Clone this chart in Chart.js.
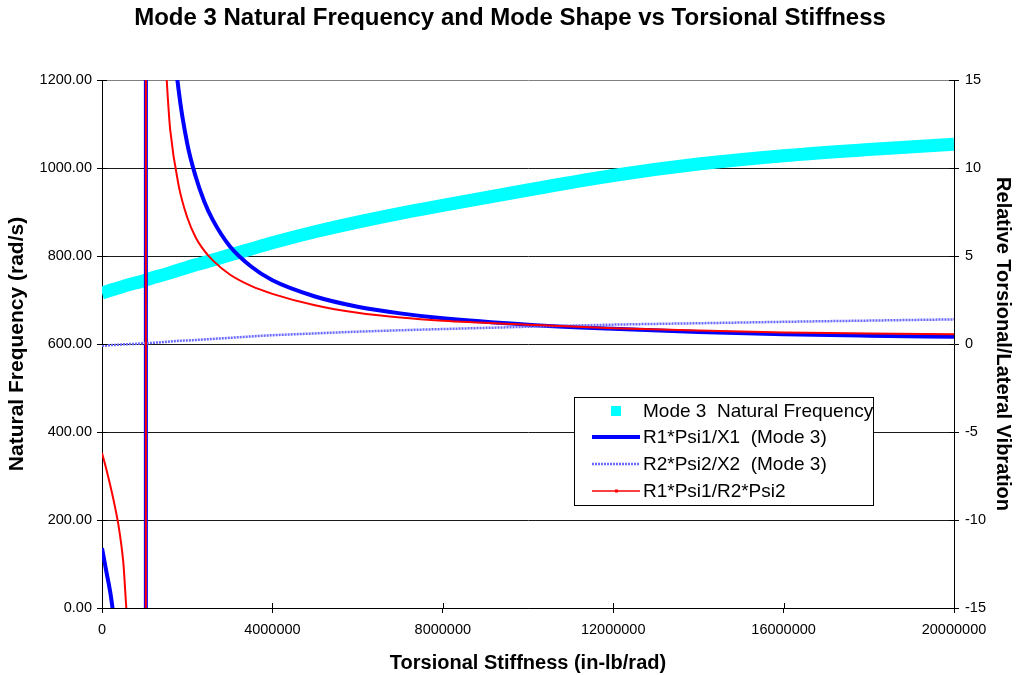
<!DOCTYPE html>
<html>
<head>
<meta charset="utf-8">
<title>Mode 3 Natural Frequency and Mode Shape vs Torsional Stiffness</title>
<script src="https://cdn.jsdelivr.net/npm/chart.js@4.4.0/dist/chart.umd.min.js"></script>
<style>
  html, body { margin: 0; padding: 0; background: #fff; }
  #wrap { width: 1020px; height: 675px; }
</style>
</head>
<body>
<div id="wrap"><canvas id="modeChart"></canvas></div>
<script>
// torsional stiffness samples (in-lb/rad)
const stiffness = [0, 100000, 200000, 300000, 400000, 500000, 600000, 800000, 1020000, 1040000,
  1200000, 1400000, 1600000, 1800000, 2000000, 2200000, 2400000, 2600000, 3000000, 3500000,
  4000000, 5000000, 6000000, 7000000, 8000000, 10000000, 12000000, 14000000, 16000000, 18000000, 20000000];

// mode 3 natural frequency (rad/s), left axis
const naturalFreq = [716, 719, 722, 725, 728, 731, 734, 739, 745, 746,
  751, 756, 762, 768, 774, 780, 785, 791, 802, 816,
  830, 855, 877, 897, 915, 950, 983, 1009, 1028, 1042, 1054];

// mode shape ratios, right axis (values past +/-15 run off the plot)
const r1Psi1X1 = [-11.6, -12.9, -14.2, -16, -18, -21, -25, -45, -900, 900,
  70, 30, 19.5, 14.4, 11.4, 9.5, 8.1, 7.05, 5.55, 4.4,
  3.62, 2.7, 2.12, 1.74, 1.46, 1.1, 0.86, 0.68, 0.55, 0.47, 0.41];

const r2Psi2X2 = [-0.1, -0.09, -0.07, -0.05, -0.04, -0.02, -0.01, 0.01, 0.04, 0.04,
  0.07, 0.1, 0.14, 0.18, 0.2, 0.23, 0.26, 0.29, 0.35, 0.43,
  0.5, 0.6, 0.7, 0.78, 0.85, 0.98, 1.1, 1.18, 1.26, 1.33, 1.4];

const r1Psi1R2Psi2 = [-6.2, -7.1, -8.1, -9.2, -10.5, -12.4, -15.6, -30, -900, 900,
  38, 18.5, 12.2, 9.0, 7.2, 6.05, 5.3, 4.75, 3.95, 3.3,
  2.85, 2.2, 1.77, 1.5, 1.32, 1.1, 0.9, 0.76, 0.66, 0.6, 0.55];

const seriesLabels = ['Mode 3  Natural Frequency', 'R1*Psi1/X1  (Mode 3)', 'R2*Psi2/X2  (Mode 3)', 'R1*Psi1/R2*Psi2'];

const FONT = '"Liberation Sans", Arial, sans-serif';

function points(values) {
  return stiffness.map((k, i) => ({ x: k, y: values[i] }));
}

// small tick marks on the inside of the axes, Excel style
const crossTicks = {
  id: 'crossTicks',
  afterDraw(chart) {
    const ctx = chart.ctx;
    const a = chart.chartArea;
    ctx.save();
    ctx.strokeStyle = '#000';
    ctx.lineWidth = 1;
    ctx.beginPath();
    chart.scales.yFreq.ticks.forEach(t => {
      const y = Math.round(chart.scales.yFreq.getPixelForValue(t.value)) + 0.5;
      ctx.moveTo(a.left, y); ctx.lineTo(a.left + 5, y);
    });
    chart.scales.yRatio.ticks.forEach(t => {
      const y = Math.round(chart.scales.yRatio.getPixelForValue(t.value)) + 0.5;
      ctx.moveTo(a.right - 5, y); ctx.lineTo(a.right, y);
    });
    chart.scales.x.ticks.forEach(t => {
      const x = Math.round(chart.scales.x.getPixelForValue(t.value)) + 0.5;
      ctx.moveTo(x, a.bottom - 5); ctx.lineTo(x, a.bottom);
    });
    ctx.stroke();
    ctx.restore();
  }
};

// boxed legend sitting inside the plot area
const boxLegend = {
  id: 'boxLegend',
  afterDraw(chart) {
    const ctx = chart.ctx;
    const bx = 574.5, by = 397.5, bw = 299, bh = 108;
    ctx.save();
    ctx.fillStyle = '#fff';
    ctx.fillRect(bx, by, bw, bh);
    ctx.strokeStyle = '#000';
    ctx.lineWidth = 1;
    ctx.strokeRect(bx, by, bw, bh);
    const rows = [411, 437, 464, 491];
    chart.data.datasets.forEach((ds, i) => {
      const y = rows[i];
      ctx.strokeStyle = ds.borderColor;
      ctx.fillStyle = ds.borderColor;
      if (i === 0) {
        ctx.fillRect(611, y - 5, 10, 10);
      } else {
        ctx.lineWidth = i === 1 ? 4 : (i === 2 ? 2.5 : 1.5);
        ctx.setLineDash(ds.borderDash || []);
        ctx.beginPath();
        ctx.moveTo(592, y); ctx.lineTo(640, y);
        ctx.stroke();
        ctx.setLineDash([]);
        if (i === 3) ctx.fillRect(615, y - 1.5, 3, 3);
      }
      ctx.fillStyle = '#000';
      ctx.font = '19px ' + FONT;
      ctx.textBaseline = 'middle';
      ctx.textAlign = 'left';
      ctx.fillText(seriesLabels[i], 643, y + 1);
    });
    ctx.restore();
  }
};

new Chart(document.getElementById('modeChart'), {
  type: 'line',
  data: {
    datasets: [
      {
        label: seriesLabels[0],
        data: points(naturalFreq),
        yAxisID: 'yFreq',
        borderColor: '#00ffff',
        borderWidth: 13,
        pointRadius: 0,
        cubicInterpolationMode: 'monotone',
        clip: 0,
        order: 4
      },
      {
        label: seriesLabels[1],
        data: points(r1Psi1X1),
        yAxisID: 'yRatio',
        borderColor: '#0000ff',
        borderWidth: 4,
        pointRadius: 0,
        cubicInterpolationMode: 'monotone',
        clip: 0,
        order: 3
      },
      {
        label: seriesLabels[2],
        data: points(r2Psi2X2),
        yAxisID: 'yRatio',
        borderColor: '#6a6aff',
        borderWidth: 2.5,
        borderDash: [2, 1],
        pointRadius: 0,
        cubicInterpolationMode: 'monotone',
        clip: 0,
        order: 2
      },
      {
        label: seriesLabels[3],
        data: points(r1Psi1R2Psi2),
        yAxisID: 'yRatio',
        borderColor: '#ff0000',
        borderWidth: 2,
        pointRadius: 0,
        cubicInterpolationMode: 'monotone',
        clip: 0,
        order: 1
      }
    ]
  },
  options: {
    responsive: true,
    maintainAspectRatio: false,
    animation: false,
    layout: { padding: 0 },
    plugins: {
      legend: { display: false },
      tooltip: { enabled: false },
      title: {
        display: true,
        text: 'Mode 3 Natural Frequency and Mode Shape vs Torsional Stiffness',
        color: '#000',
        font: { family: FONT, size: 24, weight: 'bold' },
        padding: { top: 4, bottom: 47.2 }
      }
    },
    scales: {
      x: {
        type: 'linear',
        min: 0,
        max: 20000000,
        afterFit: s => { s.height = 67; },
        border: { color: '#000', width: 1 },
        grid: { drawOnChartArea: false, color: '#000', tickLength: 5 },
        ticks: {
          stepSize: 4000000,
          color: '#000',
          padding: 8,
          maxRotation: 0,
          font: { family: FONT, size: 14.5 },
          callback: v => String(v)
        },
        title: {
          display: true,
          text: 'Torsional Stiffness (in-lb/rad)',
          color: '#000',
          font: { family: FONT, size: 20, weight: 'bold' },
          padding: { top: 2, bottom: 0 }
        }
      },
      yFreq: {
        position: 'left',
        min: 0,
        max: 1200,
        afterFit: s => { s.width = 102; },
        border: { color: '#000', width: 1 },
        grid: {
          color: ctx => (ctx.tick && ctx.tick.value === 1200 ? '#808080' : '#1a1a1a'),
          tickColor: '#000',
          tickLength: 5
        },
        ticks: {
          stepSize: 200,
          color: '#000',
          padding: 5,
          font: { family: FONT, size: 14.5 },
          callback: v => v.toFixed(2)
        },
        title: {
          display: true,
          text: 'Natural Frequency (rad/s)',
          color: '#000',
          font: { family: FONT, size: 21, weight: 'bold' },
          padding: { top: 5, bottom: 0 }
        }
      },
      yRatio: {
        position: 'right',
        min: -15,
        max: 15,
        afterFit: s => { s.width = 66; },
        border: { color: '#000', width: 1 },
        grid: { drawOnChartArea: false, color: '#000', tickLength: 5 },
        ticks: {
          stepSize: 5,
          color: '#000',
          padding: 6,
          font: { family: FONT, size: 14.5 }
        },
        title: {
          display: true,
          text: 'Relative Torsional/Lateral Vibration',
          color: '#000',
          font: { family: FONT, size: 20, weight: 'bold' },
          padding: { top: 5, bottom: 0 }
        }
      }
    }
  },
  plugins: [crossTicks, boxLegend]
});
</script>
</body>
</html>
